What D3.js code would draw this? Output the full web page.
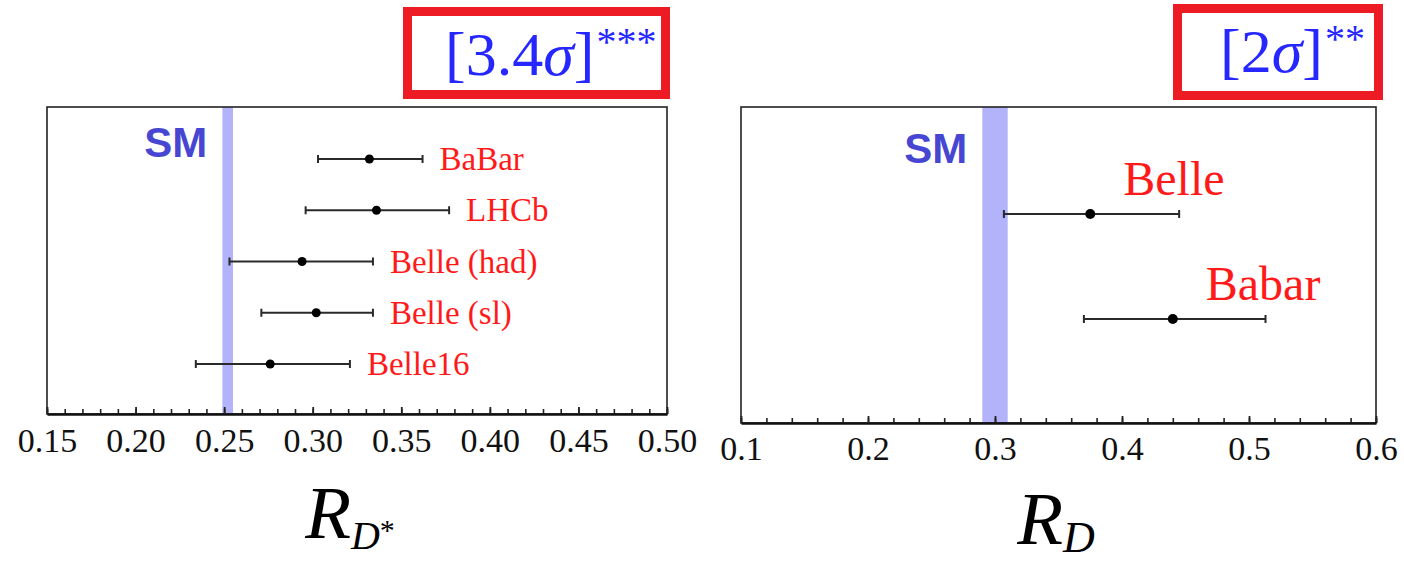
<!DOCTYPE html>
<html>
<head>
<meta charset="utf-8">
<script src="https://cdn.jsdelivr.net/npm/d3@7"></script>
<style>
  html, body { margin: 0; padding: 0; background: #fff; }
  svg { display: block; }
</style>
</head>
<body>
<svg id="chart" width="1404" height="562"></svg>
<script>
// R(D*) measurements
const rdsExperiments = ["BaBar", "LHCb", "Belle (had)", "Belle (sl)", "Belle16"];
const rdsCentral = [0.332, 0.336, 0.294, 0.302, 0.276];
const rdsLow     = [0.303, 0.296, 0.253, 0.271, 0.234];
const rdsHigh    = [0.362, 0.377, 0.334, 0.334, 0.321];
const rdsSM      = [0.249, 0.255];
const rdsTicks   = [0.15, 0.20, 0.25, 0.30, 0.35, 0.40, 0.45, 0.50];

// R(D) measurements
const rdExperiments = ["Belle", "Babar"];
const rdCentral = [0.375, 0.440];
const rdLow     = [0.307, 0.370];
const rdHigh    = [0.445, 0.513];
const rdSM      = [0.290, 0.310];
const rdTicks   = [0.1, 0.2, 0.3, 0.4, 0.5, 0.6];

const svg = d3.select("#chart");
svg.append("rect").attr("width", 1404).attr("height", 562).attr("fill", "#fff");

const serif = "'Liberation Serif', 'Times New Roman', serif";

function drawPanel(p) {
  const x = d3.scaleLinear().domain(p.domain).range([p.left, p.right]);
  const y = d3.scalePoint().domain(p.names).range([p.top + p.rowRange[0], p.top + p.rowRange[1]]);
  const g = svg.append("g");

  // SM band
  g.append("rect")
    .attr("x", x(p.sm[0])).attr("width", x(p.sm[1]) - x(p.sm[0]))
    .attr("y", p.top).attr("height", p.bottom - p.top)
    .attr("fill", "#b3b3fb");

  // frame
  g.append("rect")
    .attr("x", p.left).attr("y", p.top)
    .attr("width", p.right - p.left).attr("height", p.bottom - p.top)
    .attr("fill", "none").attr("stroke", "#222").attr("stroke-width", 1.6);

  // minor ticks (inward)
  const minorAxis = d3.axisBottom(x).tickValues(p.minor).tickSizeInner(-p.minorLen).tickSizeOuter(0).tickFormat("");
  const gm = g.append("g").attr("transform", `translate(0,${p.bottom})`).call(minorAxis);
  gm.select(".domain").remove();
  gm.selectAll("line").attr("stroke", "#222").attr("stroke-width", 1.6);

  // major ticks with labels
  const majorAxis = d3.axisBottom(x).tickValues(p.ticks).tickSizeInner(-p.majorLen).tickSizeOuter(0)
    .tickFormat(d3.format(p.fmt));
  const ga = g.append("g").attr("transform", `translate(0,${p.bottom})`).call(majorAxis);
  ga.select(".domain").attr("stroke", "#111").attr("stroke-width", 2.6);
  ga.selectAll("line").attr("stroke", "#222").attr("stroke-width", 1.8);
  ga.selectAll("text")
    .attr("y", p.labelDrop).attr("dy", 0)
    .attr("font-family", serif).attr("font-size", 34).attr("fill", "#111");

  // SM label
  g.append("text")
    .attr("x", x(p.sm[0]) - 15).attr("y", p.smBaseline)
    .attr("text-anchor", "end")
    .attr("font-family", "'Liberation Sans', Arial, sans-serif")
    .attr("font-weight", "bold").attr("font-size", 42)
    .attr("fill", "#4646d2")
    .text("SM");

  const rows = p.names.map((n, i) => ({ name: n, c: p.central[i], lo: p.low[i], hi: p.high[i] }));
  const r = g.selectAll(".row").data(rows).enter().append("g");

  r.append("line")
    .attr("x1", d => x(d.lo)).attr("x2", d => x(d.hi))
    .attr("y1", d => y(d.name)).attr("y2", d => y(d.name))
    .attr("stroke", "#2a2a2a").attr("stroke-width", 2.2);
  r.append("line")
    .attr("x1", d => x(d.lo)).attr("x2", d => x(d.lo))
    .attr("y1", d => y(d.name) - 4).attr("y2", d => y(d.name) + 4)
    .attr("stroke", "#2a2a2a").attr("stroke-width", 2);
  r.append("line")
    .attr("x1", d => x(d.hi)).attr("x2", d => x(d.hi))
    .attr("y1", d => y(d.name) - 4).attr("y2", d => y(d.name) + 4)
    .attr("stroke", "#2a2a2a").attr("stroke-width", 2);
  r.append("circle")
    .attr("cx", d => x(d.c)).attr("cy", d => y(d.name))
    .attr("r", p.dot).attr("fill", "#000");
  r.append("text")
    .attr("x", d => p.labelFromCentral ? x(d.c) + p.labelDx : x(d.hi) + p.labelDx)
    .attr("y", d => y(d.name) + p.labelDy)
    .attr("font-family", serif).attr("font-size", p.labelSize)
    .attr("fill", "#ff1a1a")
    .text(d => d.name);

  return x;
}

drawPanel({
  left: 47, right: 667, top: 107, bottom: 414,
  domain: [0.15, 0.50], ticks: rdsTicks, minor: d3.range(15, 51).map(i => i / 100), fmt: ".2f",
  majorLen: 7, minorLen: 5, labelDrop: 38,
  names: rdsExperiments, central: rdsCentral, low: rdsLow, high: rdsHigh, sm: rdsSM,
  rowRange: [52, 257], dot: 4.5,
  labelSize: 33, labelFromCentral: false, labelDx: 17, labelDy: 11,
  smBaseline: 157
});

drawPanel({
  left: 741, right: 1376, top: 107, bottom: 423,
  domain: [0.1, 0.6], ticks: rdTicks, minor: d3.range(5, 31).map(i => i / 50), fmt: ".1f",
  majorLen: 7, minorLen: 5, labelDrop: 37,
  names: rdExperiments, central: rdCentral, low: rdLow, high: rdHigh, sm: rdSM,
  rowRange: [107, 212], dot: 5,
  labelSize: 48, labelFromCentral: true, labelDx: 33, labelDy: -19,
  smBaseline: 163
});

// significance boxes
function sigBox(bx, by, bw, bh, tx, ty, value, stars) {
  svg.append("rect")
    .attr("x", bx).attr("y", by).attr("width", bw).attr("height", bh)
    .attr("fill", "#fff").attr("stroke", "#ed1c24").attr("stroke-width", 9);
  const t = svg.append("text").attr("x", tx).attr("y", ty)
    .attr("font-family", serif).attr("font-size", 62).attr("fill", "#2626ff");
  t.append("tspan").text("[" + value);
  t.append("tspan").attr("font-style", "italic").text("σ");
  t.append("tspan").text("]");
  t.append("tspan").attr("font-size", 40).attr("dy", -20).attr("dx", 2).text(stars);
}
sigBox(407.5, 11.5, 258, 83, 445, 75, "3.4", "***");
sigBox(1177.5, 8.5, 201, 87, 1220, 72, "2", "**");

// axis titles
function axisTitle(cx, base, sub, subSize, subDrop, sup) {
  const t = svg.append("text").attr("x", cx).attr("y", base)
    .attr("text-anchor", "middle")
    .attr("font-family", serif).attr("font-style", "italic").attr("fill", "#000");
  t.append("tspan").attr("font-size", 75).text("R");
  t.append("tspan").attr("font-size", subSize).attr("dy", subDrop).text(sub);
  if (sup) t.append("tspan").attr("font-size", 30).attr("font-style", "normal").attr("dy", -9).text(sup);
}
axisTitle(350, 538, "D", 40, 11, "*");
axisTitle(1056, 544, "D", 44, 8, null);
</script>
</body>
</html>
